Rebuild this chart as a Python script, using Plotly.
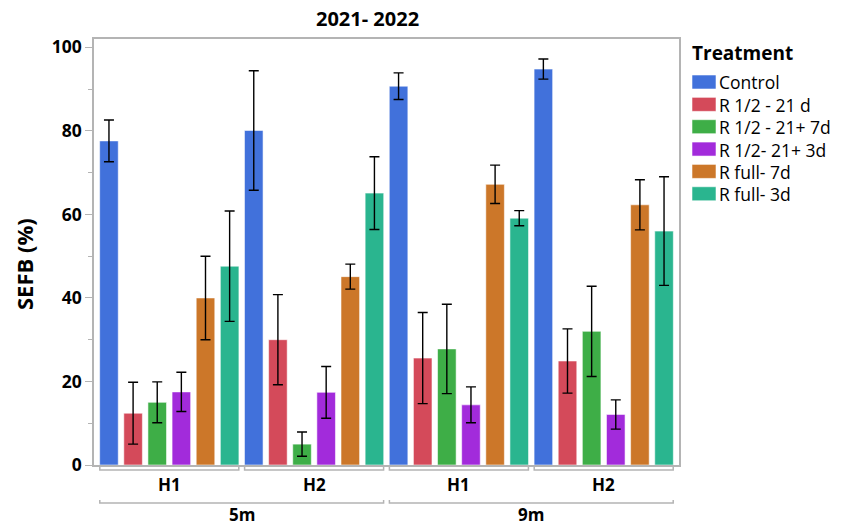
import plotly.graph_objects as go

# Grouping of the x axis: distance (outer) and harvest (inner)
distance = ["5m", "5m", "9m", "9m"]
harvest = ["H1", "H2", "H1", "H2"]

treatments = ["Control", "R 1/2 - 21 d", "R 1/2 - 21+ 7d",
              "R 1/2- 21+ 3d", "R full- 7d", "R full- 3d"]
colors = ["#4171DB", "#D44A5A", "#3EAE47", "#A22BDB", "#CC7729", "#2AB58F"]

# Mean SEFB (%) per group, and error half-widths
control_mean = [77.6, 80.1, 90.7, 94.8]
control_err = [5.0, 14.3, 3.2, 2.4]
r_half_21_mean = [12.4, 30.0, 25.6, 24.9]
r_half_21_err = [7.4, 10.8, 10.9, 7.7]
r_half_21_7_mean = [15.0, 5.0, 27.8, 32.0]
r_half_21_7_err = [4.9, 2.9, 10.7, 10.8]
r_half_21_3_mean = [17.5, 17.4, 14.4, 12.1]
r_half_21_3_err = [4.7, 6.2, 4.3, 3.5]
r_full_7_mean = [40.0, 45.1, 67.2, 62.3]
r_full_7_err = [10.0, 3.0, 4.6, 6.0]
r_full_3_mean = [47.6, 65.1, 59.1, 56.0]
r_full_3_err = [13.2, 8.7, 1.8, 13.0]

means = [control_mean, r_half_21_mean, r_half_21_7_mean,
         r_half_21_3_mean, r_full_7_mean, r_full_3_mean]
errs = [control_err, r_half_21_err, r_half_21_7_err,
        r_half_21_3_err, r_full_7_err, r_full_3_err]

y_ticks = [0, 20, 40, 60, 80, 100]

W, H = 842, 526
ML, MR, MT, MB = 94, 163, 39, 61
PW, PH = W - ML - MR, H - MT - MB

FONT = "Open Sans"
GRAY = "#B4B4B4"


def px_x(px):
    return (px - ML) / PW


def px_y(px):
    return (H - MB - px) / PH


xpos = list(range(len(harvest)))

fig = go.Figure()
for name, col, m, e in zip(treatments, colors, means, errs):
    fig.add_trace(go.Bar(
        x=xpos, y=m, name=name,
        marker=dict(color=col, line=dict(color="rgba(255,255,255,0.55)", width=1)),
        error_y=dict(type="data", array=e, visible=True, color="black",
                     thickness=1.4, width=5),
        showlegend=False,
    ))

shapes = []
annotations = []

# Inner (harvest) brackets and labels
bw = 0.48
for i, h in enumerate(harvest):
    y0, y1 = px_y(467), px_y(470)
    shapes.append(dict(type="path", xref="x", yref="paper",
                       path=f"M {i-bw},{y0} L {i-bw},{y1} L {i+bw},{y1} L {i+bw},{y0}",
                       line=dict(color=GRAY, width=1.5)))
    annotations.append(dict(x=i, y=px_y(484), xref="x", yref="paper", text=f"<b>{h}</b>",
                            showarrow=False, font=dict(size=17, color="black", family=FONT),
                            xanchor="center", yanchor="middle"))

# Outer (distance) brackets and labels
outer = []
for i, d in enumerate(distance):
    if not outer or outer[-1][0] != d:
        outer.append([d, i, i])
    else:
        outer[-1][2] = i
for d, a, b in outer:
    y0, y1 = px_y(500), px_y(503)
    shapes.append(dict(type="path", xref="x", yref="paper",
                       path=f"M {a-bw},{y0} L {a-bw},{y1} L {b+bw},{y1} L {b+bw},{y0}",
                       line=dict(color=GRAY, width=1.5)))
    annotations.append(dict(x=(a + b) / 2, y=px_y(514), xref="x", yref="paper", text=f"<b>{d}</b>",
                            showarrow=False, font=dict(size=17, color="black", family=FONT),
                            xanchor="center", yanchor="middle"))

# Title and y-axis title
annotations.append(dict(x=px_x(367.5), y=px_y(19), xref="paper", yref="paper",
                        text="<b>2021- 2022</b>", showarrow=False,
                        font=dict(size=20, color="black", family=FONT),
                        xanchor="center", yanchor="middle"))
annotations.append(dict(x=px_x(24), y=px_y(264), xref="paper", yref="paper",
                        text="<b>SEFB (%)</b>", showarrow=False, textangle=-90,
                        font=dict(size=22, color="black", family=FONT),
                        xanchor="center", yanchor="middle"))

# Legend
annotations.append(dict(x=px_x(690), y=px_y(53), xref="paper", yref="paper",
                        text="<b>Treatment</b>", showarrow=False,
                        font=dict(size=19, color="black", family=FONT),
                        xanchor="left", yanchor="middle"))
for k, (name, col) in enumerate(zip(treatments, colors)):
    top = 75 + 22.35 * k
    shapes.append(dict(type="rect", xref="paper", yref="paper",
                       x0=px_x(692), x1=px_x(716), y0=px_y(top + 14), y1=px_y(top),
                       fillcolor=col, line=dict(color="rgba(255,255,255,0.55)", width=1)))
    annotations.append(dict(x=px_x(717), y=px_y(top + 7.5), xref="paper", yref="paper",
                            text=name, showarrow=False,
                            font=dict(size=17.5, color="black", family=FONT),
                            xanchor="left", yanchor="middle"))

fig.update_layout(
    width=W, height=H,
    margin=dict(l=ML, r=MR, t=MT, b=MB),
    paper_bgcolor="white", plot_bgcolor="white",
    barmode="group", bargap=0, bargroupgap=0.23,
    shapes=shapes, annotations=annotations,
    xaxis=dict(range=[-0.52, len(harvest) - 0.48], showticklabels=False, ticks="",
               showgrid=False, zeroline=False, showline=True, mirror=True,
               linecolor=GRAY, linewidth=1.5),
    yaxis=dict(range=[0, 102], tickvals=y_ticks, ticks="outside", ticklen=7,
               tickcolor=GRAY, tickwidth=1.2,
               tickfont=dict(size=17.5, color="black", family=FONT, weight="bold"),
               minor=dict(dtick=10, ticks="outside", ticklen=4, tickcolor=GRAY, tickwidth=1.2),
               showgrid=False, zeroline=False, showline=True, mirror=True,
               linecolor=GRAY, linewidth=1.5),
    font=dict(family=FONT),
)

fig.write_html("out.html")
